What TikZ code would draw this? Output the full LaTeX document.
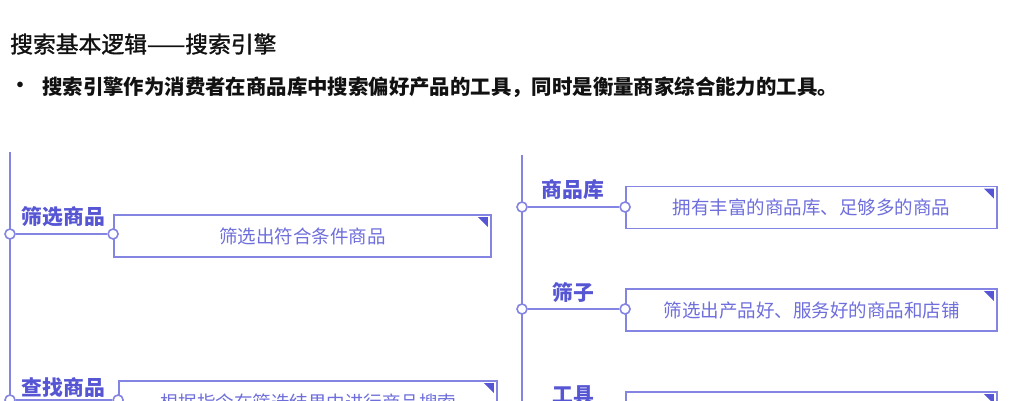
\documentclass[tikz,border=0pt]{standalone}
\usepackage{fontspec}
\newfontfamily\cjk{Noto Sans CJK SC}
\newfontfamily\cjkmid[FakeBold=1.3]{Noto Sans CJK SC}
\definecolor{linecol}{HTML}{8484E2}
\definecolor{labelcol}{HTML}{5656D4}
\definecolor{textcol}{HTML}{6E6EDC}
\definecolor{titlecol}{HTML}{111111}
\tikzset{
  dot/.style={circle,draw=linecol,line width=1.6pt,fill=white,minimum size=10pt,inner sep=0pt},
  itembox/.style={rectangle,draw=linecol,line width=1.8pt,minimum height=42pt,inner sep=0pt,
    font=\cjk\fontsize{18.5}{20}\selectfont,text=textcol},
  itemlabel/.style={font=\cjk\bfseries\fontsize{20.8}{22}\selectfont,text=labelcol,inner sep=0pt},
  conn/.style={draw=linecol,line width=1.8pt},
  corner/.style={fill=labelcol},
}
\begin{document}
\begin{tikzpicture}[x=1pt,y=-1pt]
\useasboundingbox (0,0) rectangle (1032,400);
\clip (0,0) rectangle (1032,400);
% header
\node[anchor=west,inner sep=0pt,text=titlecol,font=\cjkmid\fontsize{22.8}{24}\selectfont] (title) at (10,44) {搜索基本逻辑——搜索引擎};
\node[inner sep=0pt,text=titlecol,font=\cjk\bfseries\fontsize{20}{22}\selectfont] (bullet) at (20,87) {•};
\node[anchor=west,inner sep=0pt,text=titlecol,font=\cjk\bfseries\fontsize{20.4}{22}\selectfont] (lead) at (42,87) {搜索引擎作为消费者在商品库中搜索偏好产品的工具，同时是衡量商家综合能力的工具。};

% left spine
\coordinate (ltop) at (10,152);
\coordinate (lbot) at (10,440);
\draw[conn] (ltop) -- (lbot);
% left item 1
\node[itembox,minimum width=377pt] (lb1) at (302.5,236) {筛选出符合条件商品};
\node[dot] (ld1a) at (10,234) {};
\node[dot] (ld1b) at (lb1.west |- ld1a) {};
\draw[conn] (ld1a) -- (ld1b);
\node[itemlabel] (ll1) at (63.5,217) {筛选商品};
\fill[corner] ([shift={(-14,3)}]lb1.north east) -- ([shift={(-4,3)}]lb1.north east) -- ([shift={(-4,13)}]lb1.north east) -- cycle;
% left item 2
\node[itembox,minimum width=378pt] (lb2) at (308,402) {根据指令在筛选结果中进行商品搜索};
\node[dot] (ld2a) at (10,400) {};
\node[dot] (ld2b) at (lb2.west |- ld2a) {};
\draw[conn] (ld2a) -- (ld2b);
\node[itemlabel] (ll2) at (63.5,388) {查找商品};
\fill[corner] ([shift={(-14,3)}]lb2.north east) -- ([shift={(-4,3)}]lb2.north east) -- ([shift={(-4,13)}]lb2.north east) -- cycle;

% right spine
\coordinate (rtop) at (522,155);
\coordinate (rbot) at (522,440);
\draw[conn] (rtop) -- (rbot);
% right item 1
\node[itembox,minimum width=371pt] (rb1) at (811.5,207.5) {拥有丰富的商品库、足够多的商品};
\node[dot] (rd1a) at (522,207) {};
\node[dot] (rd1b) at (rb1.west |- rd1a) {};
\draw[conn] (rd1a) -- (rd1b);
\node[itemlabel] (rl1) at (573,190) {商品库};
\fill[corner] ([shift={(-14,3)}]rb1.north east) -- ([shift={(-4,3)}]rb1.north east) -- ([shift={(-4,13)}]rb1.north east) -- cycle;
% right item 2
\node[itembox,minimum width=371pt] (rb2) at (811.5,310) {筛选出产品好、服务好的商品和店铺};
\node[dot] (rd2a) at (522,309) {};
\node[dot] (rd2b) at (rb2.west |- rd2a) {};
\draw[conn] (rd2a) -- (rd2b);
\node[itemlabel] (rl2) at (573,293) {筛子};
\fill[corner] ([shift={(-14,3)}]rb2.north east) -- ([shift={(-4,3)}]rb2.north east) -- ([shift={(-4,13)}]rb2.north east) -- cycle;
% right item 3
\node[itembox,minimum width=371pt] (rb3) at (811.5,413) {};
\node[dot] (rd3a) at (522,411) {};
\node[dot] (rd3b) at (rb3.west |- rd3a) {};
\draw[conn] (rd3a) -- (rd3b);
\node[itemlabel] (rl3) at (573,395) {工具};
\fill[corner] ([shift={(-14,3)}]rb3.north east) -- ([shift={(-4,3)}]rb3.north east) -- ([shift={(-4,13)}]rb3.north east) -- cycle;
\end{tikzpicture}
\end{document}
